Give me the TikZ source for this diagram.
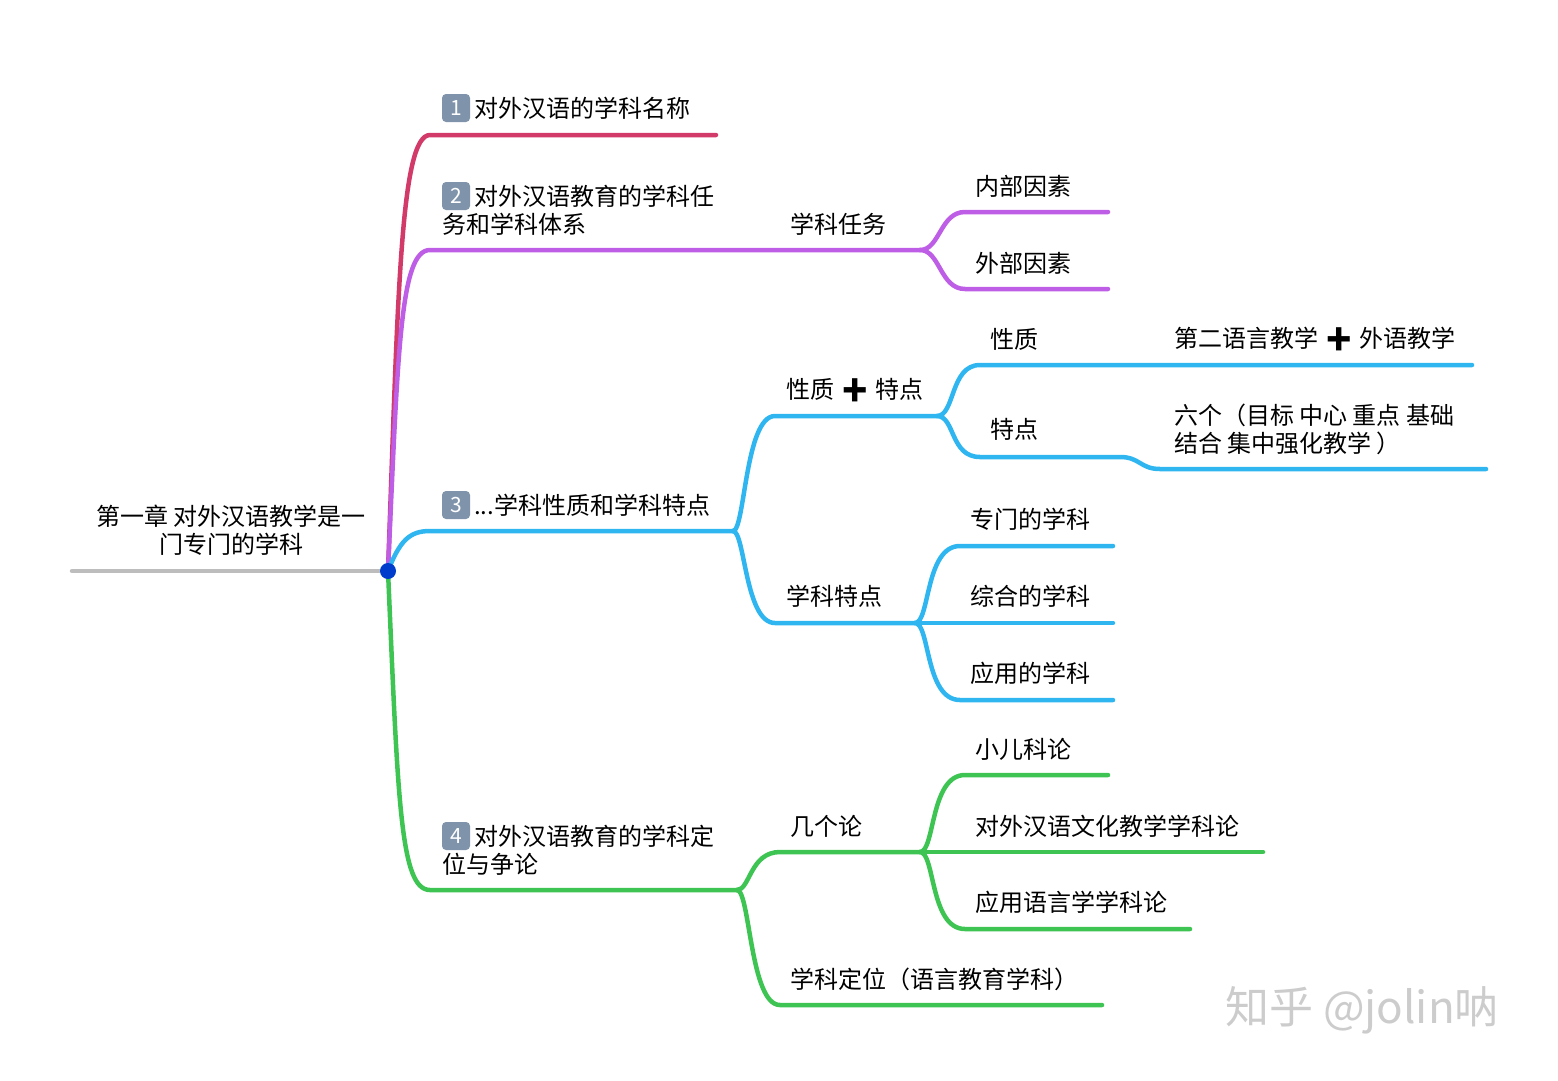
\documentclass[tikz,border=0pt]{standalone}
\usepackage{fontspec}
\setmainfont{Noto Sans CJK SC}
\newfontfamily\emo{Noto Emoji}
\newcommand\plusx{{\emo ➕}}
\begin{document}
\begin{tikzpicture}[x=1pt,y=-1pt,
  ln/.style={line width=4.5pt,line cap=round},
  tx/.style={anchor=west,font=\fontsize{24}{28}\selectfont,inner sep=0pt,align=left},
  kc/.style={fill=keyc,rounded corners=4pt,text=white,minimum size=28pt,inner sep=0pt,font=\fontsize{21}{21}\selectfont}]
\definecolor{cr}{HTML}{D23A6A}\definecolor{pu}{HTML}{BE5EE6}
\definecolor{bl}{HTML}{2FB6F0}\definecolor{gr}{HTML}{3EC452}
\definecolor{gy}{HTML}{BDBDBD}\definecolor{keyc}{HTML}{7F93AB}
\useasboundingbox (0,0) rectangle (1558,1080);
% coordinates
\coordinate (r) at (388,571); \coordinate (r0) at (72,571);
\coordinate (a1) at (430,135); \coordinate (a1e) at (716,135);
\coordinate (a2) at (430,250); \coordinate (a2e) at (920,250);
\coordinate (b21) at (965,212); \coordinate (b21e) at (1108,212);
\coordinate (b22) at (965,289); \coordinate (b22e) at (1108,289);
\coordinate (a3) at (430,531); \coordinate (a3e) at (733,531);
\coordinate (c1) at (775,416); \coordinate (c1e) at (937,416);
\coordinate (c2) at (775,623); \coordinate (c2e) at (915,623);
\coordinate (d1) at (980,365); \coordinate (d1e) at (1472,365);
\coordinate (d2) at (980,457); \coordinate (d2m) at (1120,457);
\coordinate (d2n) at (1160,469); \coordinate (d2e) at (1486,469);
\coordinate (e1) at (960,546); \coordinate (e1e) at (1113,546);
\coordinate (e2e) at (1113,623);
\coordinate (e3) at (960,700); \coordinate (e3e) at (1113,700);
\coordinate (a4) at (430,890); \coordinate (a4e) at (737,890);
\coordinate (f1) at (780,852); \coordinate (f1e) at (920,852);
\coordinate (f2) at (780,1005); \coordinate (f2e) at (1102,1005);
\coordinate (g1) at (965,775); \coordinate (g1e) at (1108,775);
\coordinate (g2e) at (1263,852);
\coordinate (g3) at (965,929); \coordinate (g3e) at (1190,929);
% lines
\draw[ln,gy] (r0) -- (r);
\draw[ln,cr] (r) .. controls (398,300) and (400,135) .. (a1) -- (a1e);
\draw[ln,pu] (r) .. controls (398,350) and (400,250) .. (a2) -- (a2e);
\draw[ln,pu] (a2e) .. controls (940,250) and (940,212) .. (b21) -- (b21e);
\draw[ln,pu] (a2e) .. controls (940,250) and (940,289) .. (b22) -- (b22e);
\draw[ln,bl] (r) .. controls (400,540) and (410,531) .. (a3) -- (a3e);
\draw[ln,bl] (a3e) .. controls (745,531) and (745,416) .. (c1) -- (c1e);
\draw[ln,bl] (a3e) .. controls (745,531) and (745,623) .. (c2) -- (c2e);
\draw[ln,bl] (c1e) .. controls (955,416) and (950,365) .. (d1) -- (d1e);
\draw[ln,bl] (c1e) .. controls (955,416) and (950,457) .. (d2) -- (d2m) .. controls (1140,457) and (1140,469) .. (d2n) -- (d2e);
\draw[ln,bl] (c2e) .. controls (930,623) and (925,546) .. (e1) -- (e1e);
\draw[ln,bl] (c2e) -- (e2e);
\draw[ln,bl] (c2e) .. controls (930,623) and (925,700) .. (e3) -- (e3e);
\draw[ln,gr] (r) .. controls (398,800) and (400,890) .. (a4) -- (a4e);
\draw[ln,gr] (a4e) .. controls (750,890) and (750,852) .. (f1) -- (f1e);
\draw[ln,gr] (a4e) .. controls (750,890) and (750,1005) .. (f2) -- (f2e);
\draw[ln,gr] (f1e) .. controls (935,852) and (930,775) .. (g1) -- (g1e);
\draw[ln,gr] (f1e) -- (g2e);
\draw[ln,gr] (f1e) .. controls (935,852) and (930,929) .. (g3) -- (g3e);
\fill[blue!70!cyan!80!black] (r) circle (8);
% texts
\node[tx,anchor=center,align=center] (t0) at (231,530) {第一章 对外汉语教学是一\\门专门的学科};
\node[kc] (k1) at (456,108) {1};
\node[tx] (t1) at (474,108) {对外汉语的学科名称};
\node[kc] (k2) at (456,196) {2};
\node[tx] (t2a) at (474,196) {对外汉语教育的学科任};
\node[tx] (t2b) at (442,224) {务和学科体系};
\node[tx] (t21) at (790,224) {学科任务};
\node[tx] (t211) at (975,186) {内部因素};
\node[tx] (t212) at (975,263) {外部因素};
\node[kc] (k3) at (456,505) {3};
\node[tx] (t3) at (474,505) {...学科性质和学科特点};
\node[tx] (t31) at (786,390) {性质 \plusx{} 特点};
\node[tx] (t311) at (990,339) {性质};
\node[tx] (t3111) at (1174,339) {第二语言教学 \plusx{} 外语教学};
\node[tx] (t312) at (990,429) {特点};
\node[tx] (t3121) at (1174,429) {六个（目标 中心 重点 基础\\结合 集中强化教学 ）};
\node[tx] (t32) at (786,596) {学科特点};
\node[tx] (t321) at (970,519) {专门的学科};
\node[tx] (t322) at (970,596) {综合的学科};
\node[tx] (t323) at (970,673) {应用的学科};
\node[kc] (k4) at (456,836) {4};
\node[tx] (t4a) at (474,836) {对外汉语教育的学科定};
\node[tx] (t4b) at (442,864) {位与争论};
\node[tx] (t41) at (790,826) {几个论};
\node[tx] (t411) at (975,749) {小儿科论};
\node[tx] (t412) at (975,826) {对外汉语文化教学学科论};
\node[tx] (t413) at (975,902) {应用语言学学科论};
\node[tx] (t42) at (790,979) {学科定位（语言教育学科）};
\node[tx,text=gray!40,font=\fontsize{44}{44}\selectfont] (wm) at (1225,1010) {知乎 @jolin呐};
\end{tikzpicture}
\end{document}
